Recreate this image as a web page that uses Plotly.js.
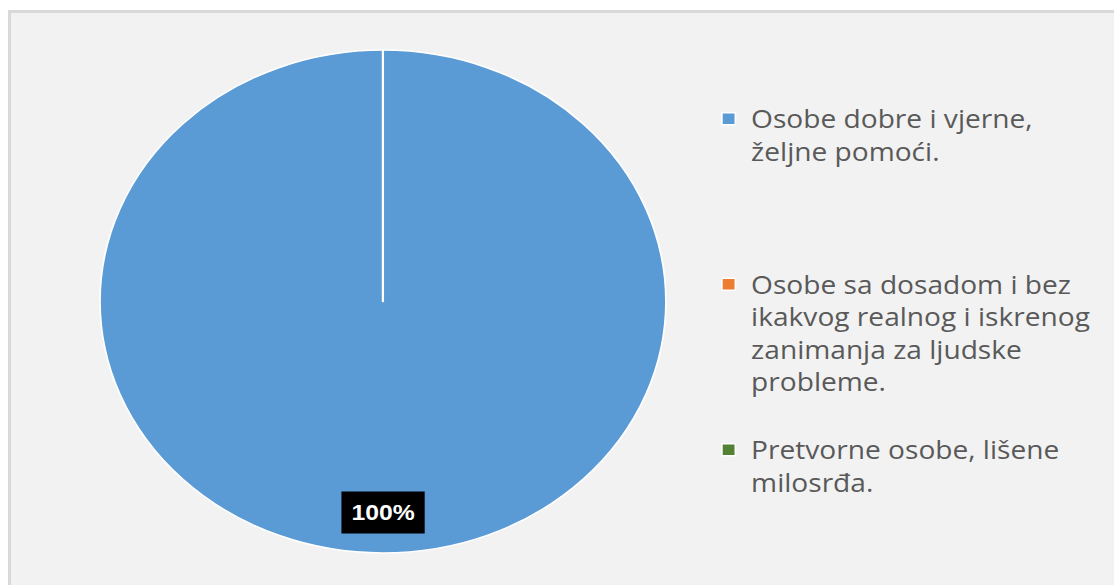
<!DOCTYPE html>
<html>
<head>
<meta charset="utf-8">
<script src="https://cdn.plot.ly/plotly-3.0.1.min.js"></script>
<style>
  html, body { margin: 0; padding: 0; background: #ffffff; overflow: hidden; }
  #panel {
    position: absolute; left: 8px; top: 10px; width: 1120px; height: 590px;
    background: #f2f2f2; border-top: 3px solid #d9d9d9; border-left: 3px solid #d9d9d9;
  }
  /* the reference is stretched sideways, so the whole chart is too */
  #plot {
    position: absolute; left: 0; top: 0; width: 990px; height: 585px;
    transform: scaleX(1.125); transform-origin: 0 0;
  }
</style>
</head>
<body>
<div id="panel"></div>
<div id="plot"></div>
<script>
// Data
var labels = [
  "Osobe dobre i vjerne,<br>željne pomoći.",
  "Osobe sa dosadom i bez<br>ikakvog realnog i iskrenog<br>zanimanja za ljudske<br>probleme.",
  "Pretvorne osobe, lišene<br>milosrđa."
];
var values = [100, 0, 0];
var colors = ["#5b9bd5", "#ed7d31", "#548235"];

// Excel spreads the legend entries evenly: pad each entry to the same number of lines
var entryLines = 5;
var legendLabels = labels.map(function (t, i) {
  var n = t.split("<br>").length;
  if (i === labels.length - 1) return t;
  for (var k = n; k < entryLines; k++) t += "<br> ";
  return t;
});

var dom = { x: [0.0898, 0.5978], y: [0.0547, 0.9145] };
var cx = (dom.x[0] + dom.x[1]) / 2;
var cy = (dom.y[0] + dom.y[1]) / 2;
var r = (dom.y[1] - dom.y[0]) / 2;

var total = values.reduce(function (a, b) { return a + b; }, 0);
var pct = Math.round(values[0] / total * 100) + "%";

var trace = {
  type: "pie",
  labels: legendLabels,
  values: values,
  sort: false,
  direction: "clockwise",
  rotation: 0,
  textinfo: "none",
  hoverinfo: "label+percent",
  domain: dom,
  marker: { colors: colors, line: { color: "#ffffff", width: 1.5 } }
};

var layout = {
  width: 990,
  height: 585,
  margin: { l: 0, r: 0, t: 0, b: 0 },
  paper_bgcolor: "rgba(0,0,0,0)",
  plot_bgcolor: "rgba(0,0,0,0)",
  showlegend: true,
  legend: {
    x: 0.634, xanchor: "left",
    y: 0.836, yanchor: "top",
    valign: "top",
    font: { family: "Open Sans", size: 25, color: "#595959" },
    bgcolor: "rgba(0,0,0,0)"
  },
  // slice boundary of the empty slices, from centre to 12 o'clock
  shapes: [{
    type: "line", xref: "paper", yref: "paper",
    x0: cx, x1: cx, y0: cy, y1: dom.y[1],
    line: { color: "#ffffff", width: 2 }
  }],
  annotations: [{
    xref: "paper", yref: "paper",
    x: cx, y: cy - 0.84 * r,
    xanchor: "center", yanchor: "middle",
    text: "<b>" + pct + "</b>",
    showarrow: false,
    font: { family: "Liberation Sans", size: 22, color: "#ffffff" },
    bgcolor: "#000000",
    width: 71, height: 39
  }]
};

Plotly.newPlot("plot", [trace], layout, { displayModeBar: false });
</script>
</body>
</html>
